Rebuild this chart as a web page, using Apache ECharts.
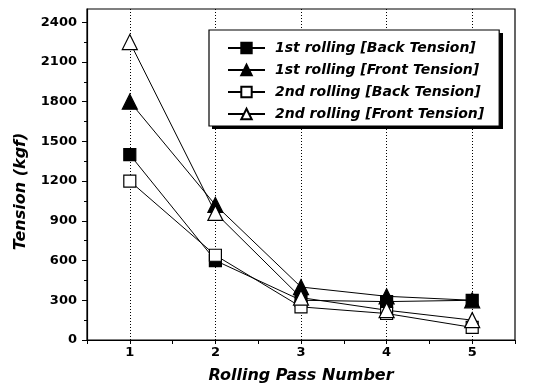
<!DOCTYPE html>
<html>
<head>
<meta charset="utf-8">
<script src="https://cdn.jsdelivr.net/npm/echarts@6/dist/echarts.min.js"></script>
<style>
html,body{margin:0;padding:0;background:#fff;}
#c{width:550px;height:389px;}
</style>
</head>
<body>
<div id="c"></div>
<script>
const passes = [1, 2, 3, 4, 5];
const firstBack = [1400, 600, 300, 290, 300];
const firstFront = [1800, 1020, 400, 330, 300];
const secondBack = [1200, 640, 250, 200, 95];
const secondFront = [2250, 960, 320, 225, 150];
const yTickLabels = [0, 300, 600, 900, 1200, 1500, 1800, 2100, 2400];
const seriesNames = ['1st rolling [Back Tension]', '1st rolling [Front Tension]', '2nd rolling [Back Tension]', '2nd rolling [Front Tension]'];

const pair = arr => passes.map((p, i) => [p, arr[i]]);
const yMinor = [];
for (let i = 0; i < yTickLabels.length - 1; i++) yMinor.push((yTickLabels[i] + yTickLabels[i + 1]) / 2);

const font = '"DejaVu Sans", Verdana, sans-serif';
function mk(name, data, symbol, filled, size) {
  return {
    name: name, type: 'line', data: pair(data), symbol: symbol, symbolSize: size,
    showSymbol: true,
    lineStyle: {color: '#000', width: 1},
    itemStyle: {color: filled ? '#000' : '#fff', borderColor: '#000', borderWidth: 1.2},
    z: filled ? 3 : 4
  };
}
const chart = echarts.init(document.getElementById('c'), null, {renderer: 'canvas'});
chart.setOption({
  animation: false,
  backgroundColor: '#fff',
  grid: {left: 87, right: 35, top: 9, bottom: 47, show: true, borderColor: '#000', borderWidth: 1.2, backgroundColor: 'transparent'},
  legend: {
    orient: 'vertical', left: 209, top: 30, z: 10,
    padding: [11, 15, 5, 18],
    itemWidth: 37, itemHeight: 13, itemGap: 8,
    backgroundColor: '#fff', borderColor: '#000', borderWidth: 1.2,
    textStyle: {fontFamily: font, fontSize: 14, fontWeight: 'bold', fontStyle: 'italic', color: '#000', padding: [0, 0, 0, 5]},
    data: seriesNames
  },
  graphic: [{
    type: 'rect', left: 212, top: 33, z: 9, silent: true,
    shape: {width: 291, height: 96},
    style: {fill: '#000'}
  }],
  xAxis: {
    type: 'value', min: 0.5, max: 5.5, interval: 0.5,
    name: 'Rolling Pass Number', nameLocation: 'middle', nameGap: 28,
    nameTextStyle: {fontFamily: font, fontSize: 16, fontWeight: 'bold', fontStyle: 'italic', color: '#000'},
    axisLine: {lineStyle: {color: '#000', width: 1.2}},
    axisTick: {show: true, length: 4, lineStyle: {color: '#000'}},
    axisLabel: {fontFamily: font, fontSize: 13, fontWeight: 'bold', color: '#000', margin: 6,
      formatter: v => (Number.isInteger(v) && passes.indexOf(v) >= 0) ? String(v) : ''},
    splitLine: {show: true, lineStyle: {color: ['rgba(0,0,0,0)', '#000'], type: [1, 2], width: 1}}
  },
  yAxis: [{
    type: 'value', min: 0, max: 2500, interval: 300,
    name: 'Tension (kgf)', nameLocation: 'middle', nameGap: 58,
    nameTextStyle: {fontFamily: font, fontSize: 16, fontWeight: 'bold', fontStyle: 'italic', color: '#000', padding: [0, 34, 0, 0]},
    axisLine: {show: true, lineStyle: {color: '#000', width: 1.2}},
    axisTick: {show: true, length: 5, customValues: yTickLabels, lineStyle: {color: '#000'}},
    axisLabel: {fontFamily: font, fontSize: 13, fontWeight: 'bold', color: '#000', margin: 10,
      customValues: yTickLabels, formatter: v => (yTickLabels.indexOf(v) >= 0 ? String(v) : '')},
    splitLine: {show: false}
  }, {
    type: 'value', min: 0, max: 2500, interval: 150, position: 'left', offset: 0,
    axisLine: {show: false},
    axisTick: {show: true, length: 3, customValues: yMinor, lineStyle: {color: '#000'}},
    axisLabel: {show: false},
    splitLine: {show: false}
  }],
  series: [
    mk(seriesNames[0], firstBack, 'rect', true, 12),
    mk(seriesNames[1], firstFront, 'triangle', true, 15),
    mk(seriesNames[2], secondBack, 'rect', false, 12),
    mk(seriesNames[3], secondFront, 'triangle', false, 15)
  ]
});
</script>
</body>
</html>
